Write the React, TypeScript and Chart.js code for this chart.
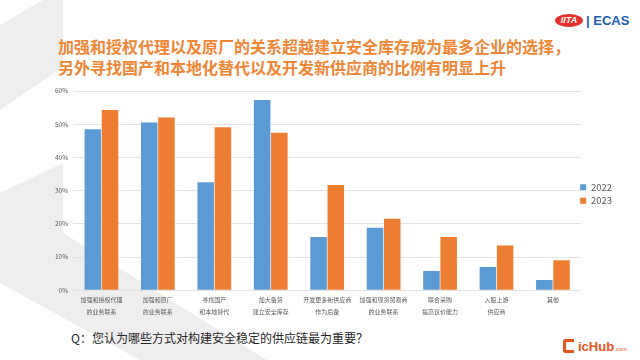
import React, { useEffect, useRef } from "react";
import { Chart, registerables } from "chart.js";

Chart.register(...registerables);

const categories: string[][] = [
  ["加强和授权代理", "的业务联系"],
  ["加强和原厂", "的业务联系"],
  ["寻找国产", "和本地替代"],
  ["加大备货", "建立安全库存"],
  ["开发更多新供应商", "作为后备"],
  ["加强和现货贸易商", "的业务联系"],
  ["联合采购", "提高议价能力"],
  ["入股上游", "供应商"],
  ["其他"],
];
const values2022: number[] = [48.5, 50.5, 32.5, 57.3, 16.0, 18.8, 5.8, 7.0, 3.1];
const values2023: number[] = [54.3, 52.0, 49.1, 47.4, 31.7, 21.5, 16.0, 13.5, 9.0];
const seriesNames: string[] = ["2022", "2023"];
const yTicks: number[] = [0, 10, 20, 30, 40, 50, 60];

const titleLines: string[] = [
  "加强和授权代理以及原厂的关系超越建立安全库存成为最多企业的选择，",
  "另外寻找国产和本地化替代以及开发新供应商的比例有明显上升",
];
const questionText = "Q：您认为哪些方式对构建安全稳定的供应链最为重要？";

const FONT = "'Noto Sans CJK SC', 'Noto Sans', sans-serif";

const legendShift = {
  id: "legendShift",
  afterLayout(chart: any) {
    const lg = chart.legend;
    if (lg) {
      lg.top -= 12;
      lg.bottom -= 12;
      lg.left -= 5;
      lg.right -= 5;
    }
  },
};

export default function App() {
  const canvasRef = useRef<HTMLCanvasElement | null>(null);

  useEffect(() => {
    const canvas = canvasRef.current;
    if (!canvas) return;
    const chart = new Chart(canvas, {
      type: "bar",
      data: {
        labels: categories,
        datasets: [
          {
            label: seriesNames[0],
            data: values2022,
            backgroundColor: "#5B9BD5",
            categoryPercentage: 0.61,
            barPercentage: 0.96,
          },
          {
            label: seriesNames[1],
            data: values2023,
            backgroundColor: "#ED7D31",
            categoryPercentage: 0.61,
            barPercentage: 0.96,
          },
        ],
      },
      plugins: [legendShift],
      options: {
        animation: false,
        responsive: false,
        devicePixelRatio: 1,
        layout: { padding: { left: 50, right: 13, top: 11, bottom: 4 } },
        plugins: {
          legend: {
            position: "right",
            labels: {
              boxWidth: 6,
              boxHeight: 6,
              padding: 4,
              color: "#595959",
              font: { size: 9.5, family: FONT },
            },
          },
          tooltip: { enabled: false },
          title: { display: false },
        },
        scales: {
          x: {
            grid: { display: false, drawTicks: false },
            border: { display: false },
            ticks: {
              color: "#595959",
              font: { size: 6, family: FONT, lineHeight: 1.9 },
              maxRotation: 0,
              autoSkip: false,
              padding: 4,
            },
          },
          y: {
            min: 0,
            max: 60,
            afterBuildTicks: (axis: any) => {
              axis.ticks = yTicks.map((v) => ({ value: v }));
            },
            grid: { color: "#e3e3e3", lineWidth: 1, drawTicks: false },
            border: { display: false },
            ticks: {
              color: "#595959",
              font: { size: 6.5, family: FONT },
              padding: 5,
              callback: (v: any) => v + "%",
            },
          },
        },
      },
    });
    return () => chart.destroy();
  }, []);

  return (
    <div
      style={{
        position: "fixed",
        left: 0,
        top: 0,
        width: 640,
        height: 360,
        background: "#ffffff",
        overflow: "hidden",
        fontFamily: FONT,
      }}
    >
      <svg
        width={640}
        height={360}
        style={{ position: "absolute", left: 0, top: 0 }}
      >
        <polygon points="0,25 43,0 63,0 63,67 0,110" fill="#eeeeee" />
        <polygon points="0,193 63,163 63,233 267,360 140,360 0,283" fill="#eeeeee" />
      </svg>
      <div
        style={{
          position: "absolute",
          left: 58,
          top: 36,
          fontSize: 16,
          lineHeight: "21px",
          fontWeight: 700,
          color: "#EF8636",
          whiteSpace: "nowrap",
        }}
      >
        {titleLines.map((t, i) => (
          <div key={i}>{t}</div>
        ))}
      </div>
      <div
        style={{
          position: "absolute",
          left: 555,
          top: 14,
          width: 28,
          height: 13,
          borderRadius: "50%",
          background: "#E0312B",
          color: "#fff",
          fontSize: 9,
          fontWeight: 700,
          fontStyle: "italic",
          lineHeight: "13px",
          textAlign: "center",
          fontFamily: "'Liberation Sans', sans-serif",
        }}
      >
        IITA
      </div>
      <div
        style={{
          position: "absolute",
          left: 586,
          top: 12,
          fontSize: 13,
          fontWeight: 700,
          color: "#2160B0",
          lineHeight: "17px",
          fontFamily: "'Liberation Sans', sans-serif",
          whiteSpace: "nowrap",
        }}
      >
        | ECAS
      </div>
      <canvas
        ref={canvasRef}
        width={640}
        height={245}
        style={{ position: "absolute", left: 0, top: 80, width: 640, height: 245 }}
      />
      <div
        style={{
          position: "absolute",
          left: 71,
          top: 330,
          fontSize: 12,
          lineHeight: "16px",
          color: "#262626",
          whiteSpace: "nowrap",
        }}
      >
        {questionText}
      </div>
      <div
        style={{
          position: "absolute",
          left: 563,
          top: 339,
          width: 11,
          height: 14,
          border: "3px solid #E8541E",
          borderRight: "none",
          boxSizing: "border-box",
          borderRadius: "3px 0 0 3px",
        }}
      />
      <div
        style={{
          position: "absolute",
          left: 578,
          top: 339,
          fontSize: 13,
          fontWeight: 700,
          color: "#E8541E",
          lineHeight: "16px",
          fontFamily: "'Liberation Sans', sans-serif",
          whiteSpace: "nowrap",
        }}
      >
        icHub
      </div>
      <div
        style={{
          position: "absolute",
          left: 614,
          top: 345,
          fontSize: 6,
          color: "#E8541E",
          lineHeight: "8px",
          fontFamily: "'Liberation Sans', sans-serif",
        }}
      >
        .com
      </div>
    </div>
  );
}
